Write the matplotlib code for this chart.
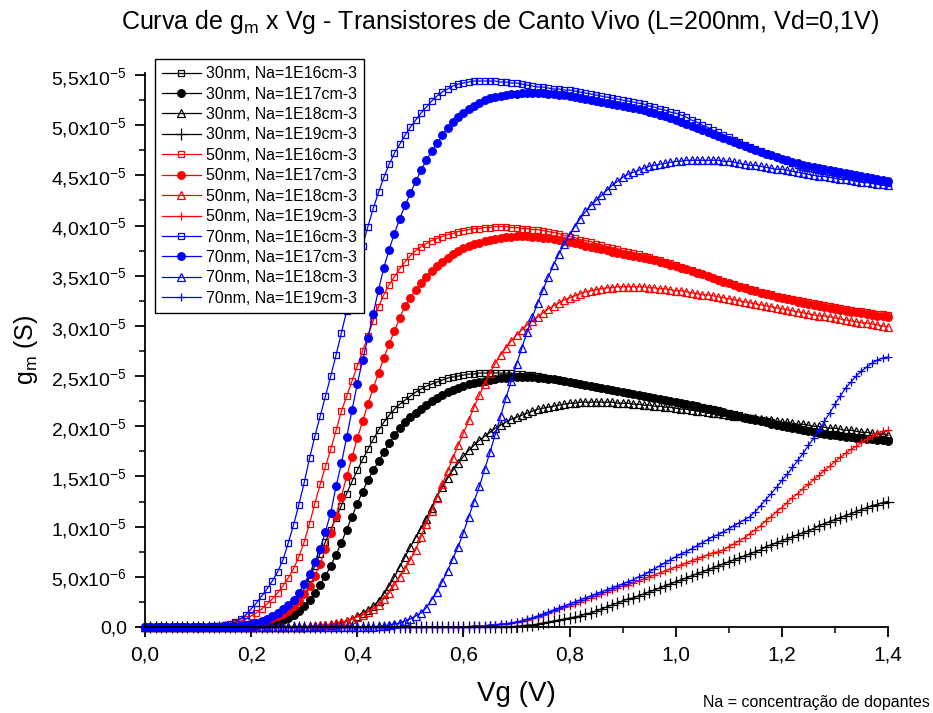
import numpy as np
import matplotlib
matplotlib.use("Agg")
import matplotlib.pyplot as plt
from matplotlib import font_manager
from matplotlib.ticker import MultipleLocator, FuncFormatter

# gate voltage sweep, 10 mV steps (V)
vg = np.linspace(0.0, 1.4, 141)

# transconductance in units of 1e-5 S, one value per Vg step
# fin width 30 nm
gm_30_16 = [
    0, 0, 0, 0, 0, 0, 0, 0, 0, 0,
    0, 0, 0, 0, 0, 0, 0, 0.01, 0.01, 0.02,
    0.03, 0.04, 0.05, 0.06, 0.08, 0.10, 0.13, 0.16, 0.21, 0.29,
    0.38, 0.49, 0.61, 0.73, 0.85, 0.97, 1.09, 1.21, 1.33, 1.45,
    1.56, 1.67, 1.77, 1.87, 1.96, 2.04, 2.11, 2.17, 2.22, 2.26,
    2.30, 2.34, 2.37, 2.40, 2.42, 2.44, 2.46, 2.48, 2.49, 2.50,
    2.51, 2.52, 2.52, 2.53, 2.53, 2.53, 2.53, 2.53, 2.53, 2.53,
    2.52, 2.52, 2.51, 2.51, 2.50, 2.49, 2.48, 2.47, 2.46, 2.45,
    2.44, 2.43, 2.42, 2.41, 2.40, 2.39, 2.38, 2.37, 2.36, 2.35,
    2.34, 2.33, 2.32, 2.31, 2.30, 2.29, 2.28, 2.27, 2.26, 2.25,
    2.24, 2.23, 2.22, 2.21, 2.20, 2.19, 2.18, 2.17, 2.16, 2.14,
    2.13, 2.12, 2.11, 2.09, 2.08, 2.07, 2.06, 2.05, 2.04, 2.02,
    2.01, 2.00, 1.99, 1.98, 1.97, 1.96, 1.95, 1.94, 1.93, 1.92,
    1.92, 1.91, 1.90, 1.90, 1.89, 1.89, 1.88, 1.88, 1.87, 1.87,
    1.86,
]
gm_30_17 = [
    0, 0, 0, 0, 0, 0, 0, 0, 0, 0,
    0, 0, 0, 0, 0, 0, 0, 0, 0, 0.01,
    0.01, 0.02, 0.03, 0.03, 0.04, 0.05, 0.07, 0.09, 0.12, 0.16,
    0.21, 0.27, 0.34, 0.42, 0.51, 0.61, 0.72, 0.84, 0.97, 1.10,
    1.23, 1.35, 1.46, 1.56, 1.65, 1.74, 1.83, 1.91, 1.98, 2.04,
    2.09, 2.13, 2.17, 2.21, 2.25, 2.28, 2.31, 2.34, 2.36, 2.38,
    2.40, 2.42, 2.43, 2.44, 2.45, 2.46, 2.47, 2.48, 2.48, 2.49,
    2.49, 2.49, 2.49, 2.49, 2.48, 2.48, 2.47, 2.47, 2.46, 2.45,
    2.44, 2.43, 2.42, 2.41, 2.40, 2.39, 2.38, 2.37, 2.36, 2.35,
    2.34, 2.33, 2.32, 2.31, 2.30, 2.29, 2.28, 2.27, 2.26, 2.25,
    2.24, 2.23, 2.22, 2.21, 2.20, 2.18, 2.17, 2.16, 2.15, 2.14,
    2.12, 2.11, 2.10, 2.08, 2.07, 2.06, 2.05, 2.04, 2.02, 2.01,
    2.00, 1.99, 1.98, 1.97, 1.96, 1.95, 1.94, 1.93, 1.92, 1.91,
    1.91, 1.90, 1.89, 1.89, 1.88, 1.88, 1.87, 1.87, 1.86, 1.86,
    1.85,
]
gm_30_18 = [
    0, 0, 0, 0, 0, 0, 0, 0, 0, 0,
    0, 0, 0, 0, 0, 0, 0, 0, 0, 0,
    0, 0, 0, 0, 0, 0, 0, 0, 0, 0,
    0, 0, 0.01, 0.01, 0.02, 0.02, 0.03, 0.04, 0.06, 0.08,
    0.11, 0.14, 0.17, 0.21, 0.26, 0.33, 0.41, 0.50, 0.60, 0.70,
    0.80, 0.89, 0.98, 1.08, 1.19, 1.30, 1.39, 1.48, 1.56, 1.63,
    1.70, 1.76, 1.81, 1.86, 1.90, 1.94, 1.98, 2.01, 2.04, 2.07,
    2.09, 2.11, 2.13, 2.15, 2.17, 2.18, 2.19, 2.20, 2.21, 2.22,
    2.23, 2.23, 2.24, 2.24, 2.24, 2.24, 2.24, 2.24, 2.24, 2.23,
    2.23, 2.23, 2.22, 2.22, 2.21, 2.21, 2.20, 2.20, 2.19, 2.19,
    2.18, 2.17, 2.17, 2.16, 2.15, 2.15, 2.14, 2.13, 2.13, 2.12,
    2.11, 2.10, 2.10, 2.09, 2.08, 2.08, 2.07, 2.06, 2.06, 2.05,
    2.04, 2.04, 2.03, 2.02, 2.02, 2.01, 2.00, 2.00, 1.99, 1.98,
    1.98, 1.97, 1.96, 1.96, 1.95, 1.94, 1.94, 1.93, 1.92, 1.92,
    1.91,
]
gm_30_19 = [
    0, 0, 0, 0, 0, 0, 0, 0, 0, 0,
    0, 0, 0, 0, 0, 0, 0, 0, 0, 0,
    0, 0, 0, 0, 0, 0, 0, 0, 0, 0,
    0, 0, 0, 0, 0, 0, 0, 0, 0, 0,
    0, 0, 0, 0, 0, 0, 0, 0, 0, 0,
    0, 0, 0, 0, 0, 0, 0, 0, 0, 0,
    0, 0, 0, 0, 0, 0, 0, 0, 0, 0,
    0.01, 0.01, 0.02, 0.02, 0.03, 0.04, 0.05, 0.06, 0.07, 0.08,
    0.09, 0.10, 0.11, 0.13, 0.14, 0.16, 0.18, 0.20, 0.22, 0.24,
    0.26, 0.28, 0.29, 0.31, 0.33, 0.35, 0.37, 0.39, 0.41, 0.43,
    0.45, 0.47, 0.49, 0.51, 0.53, 0.55, 0.57, 0.59, 0.61, 0.63,
    0.65, 0.67, 0.69, 0.71, 0.73, 0.75, 0.77, 0.80, 0.82, 0.84,
    0.86, 0.88, 0.90, 0.92, 0.94, 0.96, 0.98, 1.01, 1.03, 1.05,
    1.07, 1.09, 1.11, 1.13, 1.15, 1.17, 1.19, 1.21, 1.22, 1.24,
    1.25,
]

# fin width 50 nm
gm_50_16 = [
    0, 0, 0, 0, 0, 0, 0, 0, 0, 0,
    0, 0, 0, 0.01, 0.01, 0.02, 0.03, 0.04, 0.06, 0.08,
    0.11, 0.14, 0.18, 0.23, 0.28, 0.34, 0.41, 0.49, 0.58, 0.70,
    0.85, 1.03, 1.23, 1.42, 1.60, 1.77, 1.96, 2.15, 2.30, 2.45,
    2.60, 2.75, 2.90, 3.05, 3.19, 3.31, 3.41, 3.49, 3.57, 3.64,
    3.70, 3.75, 3.79, 3.82, 3.85, 3.87, 3.89, 3.91, 3.92, 3.94,
    3.95, 3.96, 3.97, 3.97, 3.98, 3.98, 3.99, 3.99, 3.99, 3.98,
    3.98, 3.97, 3.97, 3.96, 3.96, 3.95, 3.94, 3.93, 3.92, 3.90,
    3.89, 3.88, 3.86, 3.85, 3.84, 3.82, 3.81, 3.79, 3.78, 3.77,
    3.75, 3.74, 3.73, 3.72, 3.70, 3.69, 3.67, 3.66, 3.64, 3.63,
    3.61, 3.59, 3.57, 3.56, 3.54, 3.52, 3.50, 3.48, 3.47, 3.45,
    3.43, 3.42, 3.40, 3.39, 3.37, 3.36, 3.34, 3.33, 3.32, 3.30,
    3.29, 3.28, 3.27, 3.26, 3.25, 3.24, 3.23, 3.22, 3.21, 3.20,
    3.19, 3.18, 3.17, 3.16, 3.15, 3.15, 3.14, 3.13, 3.12, 3.12,
    3.11,
]
gm_50_17 = [
    0, 0, 0, 0, 0, 0, 0, 0, 0, 0,
    0, 0, 0, 0, 0, 0, 0, 0.01, 0.02, 0.02,
    0.03, 0.04, 0.05, 0.07, 0.09, 0.11, 0.13, 0.16, 0.21, 0.26,
    0.33, 0.41, 0.51, 0.63, 0.78, 0.94, 1.11, 1.30, 1.50, 1.69,
    1.88, 2.05, 2.22, 2.38, 2.53, 2.68, 2.82, 2.95, 3.08, 3.20,
    3.28, 3.36, 3.43, 3.49, 3.55, 3.60, 3.64, 3.68, 3.72, 3.75,
    3.78, 3.80, 3.82, 3.83, 3.85, 3.86, 3.87, 3.88, 3.89, 3.89,
    3.90, 3.90, 3.90, 3.89, 3.89, 3.88, 3.88, 3.87, 3.86, 3.85,
    3.84, 3.83, 3.82, 3.80, 3.79, 3.78, 3.77, 3.76, 3.74, 3.73,
    3.72, 3.71, 3.70, 3.69, 3.68, 3.67, 3.66, 3.64, 3.63, 3.61,
    3.60, 3.58, 3.57, 3.55, 3.53, 3.52, 3.50, 3.48, 3.46, 3.44,
    3.43, 3.41, 3.39, 3.38, 3.36, 3.35, 3.33, 3.32, 3.31, 3.29,
    3.28, 3.27, 3.26, 3.24, 3.23, 3.22, 3.21, 3.20, 3.19, 3.18,
    3.17, 3.16, 3.15, 3.14, 3.14, 3.13, 3.12, 3.11, 3.10, 3.10,
    3.09,
]
gm_50_18 = [
    0, 0, 0, 0, 0, 0, 0, 0, 0, 0,
    0, 0, 0, 0, 0, 0, 0, 0, 0, 0,
    0, 0, 0, 0, 0, 0, 0, 0, 0, 0,
    0, 0.01, 0.01, 0.02, 0.02, 0.03, 0.04, 0.05, 0.06, 0.08,
    0.10, 0.12, 0.15, 0.18, 0.22, 0.28, 0.34, 0.42, 0.50, 0.58,
    0.67, 0.77, 0.90, 1.03, 1.16, 1.29, 1.42, 1.55, 1.68, 1.81,
    1.93, 2.06, 2.19, 2.31, 2.42, 2.53, 2.63, 2.71, 2.78, 2.85,
    2.91, 2.96, 3.01, 3.05, 3.09, 3.13, 3.17, 3.20, 3.23, 3.26,
    3.28, 3.30, 3.32, 3.34, 3.35, 3.36, 3.37, 3.38, 3.38, 3.39,
    3.39, 3.39, 3.39, 3.39, 3.39, 3.38, 3.38, 3.37, 3.37, 3.36,
    3.35, 3.35, 3.34, 3.33, 3.32, 3.31, 3.31, 3.30, 3.29, 3.28,
    3.27, 3.26, 3.25, 3.24, 3.23, 3.22, 3.21, 3.20, 3.19, 3.18,
    3.17, 3.16, 3.15, 3.14, 3.13, 3.12, 3.11, 3.10, 3.10, 3.09,
    3.08, 3.07, 3.06, 3.05, 3.04, 3.03, 3.03, 3.02, 3.01, 3.00,
    2.99,
]
gm_50_19 = [
    0, 0, 0, 0, 0, 0, 0, 0, 0, 0,
    0, 0, 0, 0, 0, 0, 0, 0, 0, 0,
    0, 0, 0, 0, 0, 0, 0, 0, 0, 0,
    0, 0, 0, 0, 0, 0, 0, 0, 0, 0,
    0, 0, 0, 0, 0, 0, 0, 0, 0, 0,
    0, 0, 0, 0, 0, 0, 0, 0, 0, 0,
    0, 0, 0.01, 0.01, 0.01, 0.02, 0.02, 0.03, 0.03, 0.04,
    0.05, 0.06, 0.07, 0.09, 0.10, 0.12, 0.14, 0.16, 0.18, 0.20,
    0.21, 0.23, 0.25, 0.27, 0.29, 0.31, 0.33, 0.35, 0.37, 0.39,
    0.41, 0.42, 0.44, 0.46, 0.48, 0.50, 0.52, 0.54, 0.56, 0.58,
    0.60, 0.62, 0.64, 0.66, 0.68, 0.70, 0.72, 0.74, 0.75, 0.77,
    0.80, 0.83, 0.86, 0.89, 0.93, 0.97, 1.01, 1.06, 1.10, 1.15,
    1.19, 1.24, 1.29, 1.33, 1.38, 1.42, 1.47, 1.51, 1.56, 1.60,
    1.65, 1.69, 1.73, 1.77, 1.80, 1.84, 1.87, 1.90, 1.93, 1.95,
    1.96,
]

# fin width 70 nm
gm_70_16 = [
    0, 0, 0, 0, 0, 0, 0, 0, 0, 0,
    0, 0, 0, 0.01, 0.01, 0.02, 0.03, 0.05, 0.08, 0.12,
    0.18, 0.24, 0.31, 0.38, 0.46, 0.55, 0.67, 0.84, 1.02, 1.22,
    1.44, 1.68, 1.90, 2.10, 2.30, 2.50, 2.71, 2.93, 3.15, 3.38,
    3.60, 3.80, 3.99, 4.17, 4.33, 4.48, 4.61, 4.72, 4.81, 4.90,
    4.98, 5.05, 5.12, 5.18, 5.24, 5.29, 5.33, 5.36, 5.39, 5.41,
    5.42, 5.43, 5.44, 5.44, 5.44, 5.44, 5.44, 5.43, 5.43, 5.42,
    5.42, 5.41, 5.40, 5.39, 5.38, 5.38, 5.37, 5.36, 5.36, 5.35,
    5.35, 5.34, 5.33, 5.32, 5.31, 5.30, 5.29, 5.28, 5.27, 5.26,
    5.25, 5.24, 5.23, 5.22, 5.21, 5.19, 5.18, 5.16, 5.15, 5.13,
    5.12, 5.10, 5.08, 5.05, 5.03, 5.00, 4.98, 4.95, 4.93, 4.90,
    4.88, 4.85, 4.83, 4.80, 4.78, 4.76, 4.74, 4.72, 4.70, 4.68,
    4.66, 4.64, 4.62, 4.60, 4.58, 4.57, 4.56, 4.55, 4.54, 4.53,
    4.52, 4.51, 4.50, 4.49, 4.48, 4.47, 4.46, 4.45, 4.44, 4.43,
    4.42,
]
gm_70_17 = [
    0, 0, 0, 0, 0, 0, 0, 0, 0, 0,
    0, 0, 0, 0, 0, 0, 0, 0, 0.01, 0.02,
    0.03, 0.04, 0.06, 0.08, 0.11, 0.14, 0.18, 0.22, 0.27, 0.34,
    0.43, 0.53, 0.65, 0.78, 0.95, 1.14, 1.40, 1.63, 1.89, 2.16,
    2.42, 2.66, 2.88, 3.12, 3.36, 3.58, 3.76, 3.92, 4.07, 4.20,
    4.32, 4.44, 4.55, 4.65, 4.74, 4.82, 4.90, 4.97, 5.03, 5.08,
    5.12, 5.16, 5.19, 5.22, 5.25, 5.27, 5.28, 5.29, 5.30, 5.31,
    5.31, 5.32, 5.32, 5.32, 5.32, 5.32, 5.31, 5.31, 5.30, 5.30,
    5.29, 5.28, 5.27, 5.26, 5.25, 5.24, 5.23, 5.22, 5.21, 5.20,
    5.19, 5.18, 5.17, 5.16, 5.15, 5.13, 5.12, 5.10, 5.09, 5.07,
    5.05, 5.03, 5.01, 4.99, 4.97, 4.95, 4.93, 4.91, 4.89, 4.87,
    4.85, 4.83, 4.81, 4.79, 4.77, 4.75, 4.73, 4.71, 4.70, 4.68,
    4.66, 4.65, 4.63, 4.62, 4.60, 4.59, 4.58, 4.57, 4.56, 4.55,
    4.54, 4.53, 4.52, 4.51, 4.50, 4.49, 4.48, 4.47, 4.46, 4.45,
    4.44,
]
gm_70_18 = [
    0, 0, 0, 0, 0, 0, 0, 0, 0, 0,
    0, 0, 0, 0, 0, 0, 0, 0, 0, 0,
    0, 0, 0, 0, 0, 0, 0, 0, 0, 0,
    0, 0, 0, 0, 0, 0, 0, 0, 0, 0,
    0, 0, 0, 0, 0.01, 0.01, 0.02, 0.03, 0.04, 0.06,
    0.08, 0.11, 0.14, 0.19, 0.27, 0.35, 0.45, 0.56, 0.68, 0.80,
    0.94, 1.10, 1.25, 1.40, 1.57, 1.74, 1.92, 2.10, 2.28, 2.45,
    2.62, 2.78, 2.94, 3.09, 3.23, 3.36, 3.49, 3.61, 3.72, 3.82,
    3.91, 3.99, 4.07, 4.14, 4.20, 4.25, 4.30, 4.35, 4.40, 4.44,
    4.48, 4.51, 4.53, 4.55, 4.57, 4.59, 4.60, 4.61, 4.62, 4.63,
    4.64, 4.64, 4.65, 4.65, 4.65, 4.65, 4.65, 4.65, 4.65, 4.64,
    4.64, 4.63, 4.62, 4.61, 4.60, 4.60, 4.59, 4.58, 4.57, 4.56,
    4.56, 4.55, 4.54, 4.53, 4.52, 4.51, 4.50, 4.49, 4.49, 4.48,
    4.47, 4.46, 4.46, 4.45, 4.44, 4.43, 4.43, 4.42, 4.41, 4.41,
    4.40,
]
gm_70_19 = [
    0, 0, 0, 0, 0, 0, 0, 0, 0, 0,
    0, 0, 0, 0, 0, 0, 0, 0, 0, 0,
    0, 0, 0, 0, 0, 0, 0, 0, 0, 0,
    0, 0, 0, 0, 0, 0, 0, 0, 0, 0,
    0, 0, 0, 0, 0, 0, 0, 0, 0, 0,
    0, 0, 0, 0, 0, 0, 0, 0, 0, 0,
    0, 0, 0.01, 0.01, 0.01, 0.02, 0.02, 0.03, 0.03, 0.04,
    0.05, 0.06, 0.08, 0.09, 0.11, 0.13, 0.15, 0.17, 0.19, 0.21,
    0.23, 0.25, 0.27, 0.29, 0.31, 0.33, 0.35, 0.37, 0.39, 0.41,
    0.43, 0.45, 0.47, 0.50, 0.52, 0.55, 0.58, 0.61, 0.64, 0.67,
    0.70, 0.73, 0.75, 0.78, 0.81, 0.84, 0.87, 0.90, 0.92, 0.95,
    0.98, 1.01, 1.04, 1.07, 1.10, 1.15, 1.21, 1.27, 1.33, 1.39,
    1.46, 1.52, 1.59, 1.66, 1.73, 1.81, 1.88, 1.96, 2.05, 2.13,
    2.22, 2.30, 2.38, 2.44, 2.50, 2.55, 2.59, 2.63, 2.66, 2.68,
    2.69,
]

widths = ["30", "30", "30", "30", "50", "50", "50", "50", "70", "70", "70", "70"]
dopings = ["16", "17", "18", "19"] * 3
labels = [f"{w}nm, Na=1E{d}cm-3" for w, d in zip(widths, dopings)]
curves = [gm_30_16, gm_30_17, gm_30_18, gm_30_19,
          gm_50_16, gm_50_17, gm_50_18, gm_50_19,
          gm_70_16, gm_70_17, gm_70_18, gm_70_19]

UNIT = 1e-5  # values above are in 1e-5 S

# fonts ─────────────────────────────────────────────
plt.rcParams["font.family"] = ["Liberation Sans", "DejaVu Sans"]
plt.rcParams["mathtext.default"] = "regular"

try:
    font_manager.findfont("Liberation Sans Narrow", fallback_to_default=False)
    NARROW = ["Liberation Sans Narrow", "Liberation Sans"]
    title_size = 21
except ValueError:
    NARROW = ["Liberation Sans", "DejaVu Sans"]
    title_size = 18

# style per series: colour by fin width, marker by doping
colors = {"30": "black", "50": "#ff0000", "70": "#0000ff"}
markers = {"16": ("s", False), "17": ("o", True), "18": ("^", False), "19": ("+", False)}
msizes = {"s": 5, "o": 5.5, "^": 6, "+": 6}

fig = plt.figure(figsize=(9.33, 7.13), dpi=100)
ax = fig.add_axes([145 / 933, 1 - 627 / 713, 743 / 933, 554 / 713])

for w, d, lab, gm in zip(widths, dopings, labels, curves):
    c = colors[w]
    m, filled = markers[d]
    ms = msizes[m]
    if m == "+" and w == "30":
        ms = 8
    ax.plot(vg, np.asarray(gm) * UNIT, color=c, lw=0.9,
            marker=m, ms=ms, mew=0.9,
            mfc=c if filled else "none", mec=c,
            label=lab, clip_on=False)

ax.set_xlim(0, 1.4)
ax.set_ylim(0, 5.52e-5)

ax.xaxis.set_major_locator(MultipleLocator(0.2))
ax.xaxis.set_minor_locator(MultipleLocator(0.1))
ax.yaxis.set_major_locator(MultipleLocator(0.5e-5))
ax.yaxis.set_minor_locator(MultipleLocator(0.25e-5))


def fmt_x(v, pos):
    return f"{v:.1f}".replace(".", ",")


def fmt_y(v, pos):
    if abs(v) < 1e-12:
        return "0,0"
    exp = int(np.floor(np.log10(abs(v)) + 1e-9))
    mant = v / 10 ** exp
    return f"{mant:.1f}".replace(".", ",") + f"x10$^{{{exp}}}$"


ax.xaxis.set_major_formatter(FuncFormatter(fmt_x))
ax.yaxis.set_major_formatter(FuncFormatter(fmt_y))

for side in ("top", "right"):
    ax.spines[side].set_visible(False)
for side in ("left", "bottom"):
    ax.spines[side].set_linewidth(1.3)

ax.tick_params(which="major", direction="out", length=7, width=1.3, pad=6)
ax.tick_params(which="minor", direction="out", length=4, width=1.1)
ax.tick_params(axis="y", labelsize=14)
ax.tick_params(axis="x", labelsize=15)
for t in ax.get_xticklabels():
    t.set_family(NARROW)

ax.set_xlabel("Vg (V)", fontsize=20, family=NARROW, labelpad=12)
ax.set_ylabel("g$_m$ (S)", fontsize=18, labelpad=8)

fig.text(500 / 933, 1 - 22 / 713,
         "Curva de g$_m$ x Vg - Transistores de Canto Vivo (L=200nm, Vd=0,1V)",
         ha="center", va="center", fontsize=title_size, family=NARROW)

fig.text(930 / 933, 1 - 702 / 713, "Na = concentração de dopantes",
         ha="right", va="center", fontsize=11.5, family=NARROW)

leg = ax.legend(loc="upper left", bbox_to_anchor=(155 / 933, 1 - 59 / 713),
                bbox_transform=fig.transFigure, borderaxespad=0,
                fontsize=11.5, frameon=True, fancybox=False, framealpha=1,
                edgecolor="black", handlelength=2.4, handletextpad=0.35,
                labelspacing=0.34, borderpad=0.45)
leg.get_frame().set_linewidth(1.0)

fig.savefig("out.png", dpi=100)
